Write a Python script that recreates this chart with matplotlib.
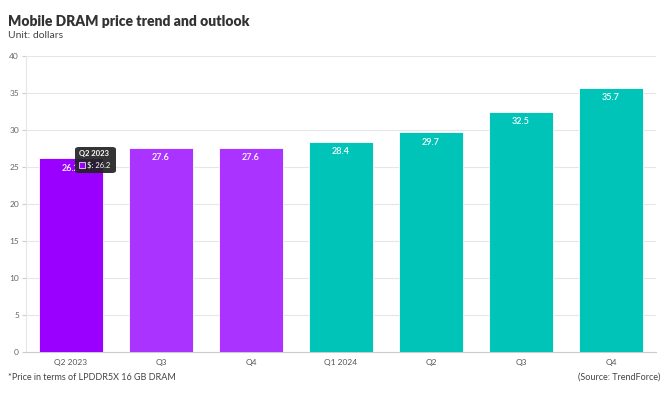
import matplotlib
matplotlib.use("Agg")
import matplotlib.pyplot as plt
from matplotlib.patches import FancyBboxPatch, Rectangle

categories = ["Q2 2023", "Q3", "Q4", "Q1 2024", "Q2", "Q3", "Q4"]
values = [26.2, 27.6, 27.6, 28.4, 29.7, 32.5, 35.7]
colors = ["#9900FF", "#AA33FF", "#AA33FF", "#00C4B8", "#00C4B8", "#00C4B8", "#00C4B8"]
yticks = [0, 5, 10, 15, 20, 25, 30, 35, 40]

plt.rcParams['font.family'] = ['Lato', 'DejaVu Sans']

W, H = 668, 397
fig = plt.figure(figsize=(W/100, H/100), dpi=100)
ax = fig.add_axes([26/W, 1-352/H, 630/W, 296/H])

x = list(range(len(categories)))
bars = ax.bar(x, values, width=0.72, color=colors, edgecolor="#ffffff", linewidth=0.6, zorder=3)
for xi, v in zip(x, values):
    ax.text(xi, v - 1.35, f"{v}", ha="center", va="center", color="white",
            fontsize=6.5, fontweight="semibold", zorder=4)

ax.set_xlim(-0.5, len(categories) - 0.5)
ax.set_ylim(0, 40)
ax.set_yticks(yticks)
ax.set_yticklabels([str(t) for t in yticks], fontsize=6, color="#666666")
ax.set_xticks(x)
ax.set_xticklabels(categories, fontsize=6, color="#555555")
ax.grid(axis="y", color="#e6e6e6", linewidth=0.8, zorder=0)
for s in ["top", "right"]:
    ax.spines[s].set_visible(False)
ax.spines["left"].set_color("#e6e6e6")
ax.spines["bottom"].set_color("#cccccc")
ax.tick_params(axis="y", length=3, color="#cccccc", pad=2)
ax.tick_params(axis="x", length=0, pad=5)

# title and subtitle
fig.text(8/W, 1-22/H, "Mobile DRAM price trend and outlook", fontsize=10,
         fontweight="heavy", color="#333333", va="center", ha="left")
fig.text(8/W, 1-35/H, "Unit: dollars", fontsize=7.5, color="#444444", va="center", ha="left")

# footnotes
fig.text(8/W, 1-377/H, "*Price in terms of LPDDR5X 16 GB DRAM", fontsize=6.5,
         color="#444444", va="center", ha="left")
fig.text(660/W, 1-377/H, "(Source: TrendForce)", fontsize=6.5,
         color="#444444", va="center", ha="right")

# tooltip (hover state in reference)
tx0, ty0, tw, th = 75, 147, 41, 26
box = FancyBboxPatch((tx0/W, 1-(ty0+th)/H), tw/W, th/H,
                     boxstyle="round,pad=0,rounding_size=0.006",
                     transform=fig.transFigure, facecolor="#222222",
                     edgecolor="none", alpha=0.92, zorder=10)
fig.patches.append(box)
fig.text(79/W, 1-153/H, "Q2 2023", fontsize=5.5, fontweight="bold", color="white",
         va="center", ha="left", zorder=11)
sq = Rectangle((79/W, 1-168/H), 6/W, 6/H, transform=fig.transFigure,
               facecolor=colors[0], edgecolor="white", linewidth=0.5, zorder=11)
fig.patches.append(sq)
fig.text(87/W, 1-165/H, f"$: {values[0]}", fontsize=5.5, color="white",
         va="center", ha="left", zorder=11)

fig.savefig("out.png", dpi=100, facecolor="white")
